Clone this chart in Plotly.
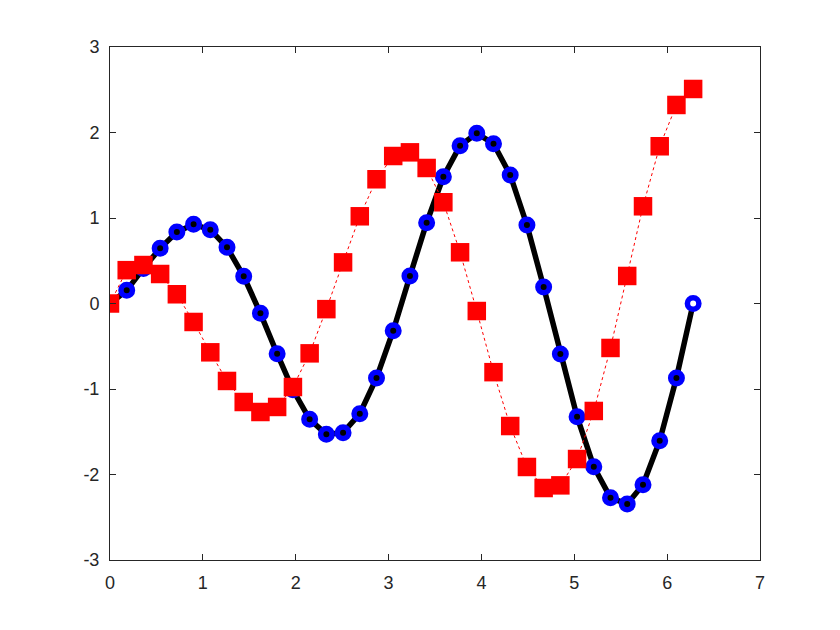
import plotly.graph_objects as go

x_vals = [0.00, 0.18, 0.36, 0.54, 0.72, 0.90, 1.08, 1.26, 1.44, 1.62, 1.80, 1.97,
          2.15, 2.33, 2.51, 2.69, 2.87, 3.05, 3.23, 3.41, 3.59, 3.77, 3.95, 4.13,
          4.31, 4.49, 4.67, 4.85, 5.03, 5.21, 5.39, 5.57, 5.74, 5.92, 6.10, 6.28]

black_y = [0.0, 0.154, 0.41, 0.646, 0.836, 0.926, 0.863, 0.657, 0.318, -0.115,
           -0.587, -1.01, -1.354, -1.53, -1.511, -1.289, -0.871, -0.318, 0.322,
           0.945, 1.483, 1.846, 1.99, 1.869, 1.503, 0.918, 0.193, -0.591, -1.324,
           -1.909, -2.271, -2.345, -2.119, -1.605, -0.871, 0.0]

red_y = [0.0, 0.39, 0.45, 0.345, 0.108, -0.216, -0.571, -0.906, -1.152, -1.269,
         -1.21, -0.977, -0.583, -0.066, 0.481, 1.02, 1.453, 1.725, 1.768, 1.585,
         1.184, 0.599, -0.088, -0.803, -1.433, -1.912, -2.158, -2.127, -1.819,
         -1.257, -0.52, 0.322, 1.137, 1.839, 2.322, 2.509]

x_ticks = [0, 1, 2, 3, 4, 5, 6, 7]
y_ticks = [-3, -2, -1, 0, 1, 2, 3]

fill_cols = ["black"] * (len(x_vals) - 1) + ["white"]

fig = go.Figure()
fig.add_trace(go.Scatter(
    x=x_vals, y=black_y, mode="lines+markers",
    line=dict(color="black", width=5.5),
    marker=dict(symbol="circle", size=11.5, color=fill_cols,
                line=dict(color="#0000ff", width=5.5)),
    showlegend=False,
))
fig.add_trace(go.Scatter(
    x=x_vals, y=red_y, mode="lines+markers",
    line=dict(color="red", width=1, dash="dot"),
    marker=dict(symbol="square", size=18.5, color="red", line=dict(width=0)),
    showlegend=False,
))

axis_common = dict(
    showline=True, linecolor="#262626", linewidth=1, mirror="ticks",
    ticks="inside", ticklen=6, tickcolor="#262626", tickwidth=1,
    showgrid=False, zeroline=False,
    tickfont=dict(family="Liberation Sans, Arial, sans-serif", size=18, color="#262626"),
)

fig.update_layout(
    width=840, height=630,
    margin=dict(l=101.6, r=88, t=39, b=78),
    paper_bgcolor="white", plot_bgcolor="white",
    xaxis=dict(range=[0, 7], tickvals=x_ticks,
               ticktext=[str(v) for v in x_ticks], ticklabelstandoff=6, **axis_common),
    yaxis=dict(range=[-3, 3], tickvals=y_ticks,
               ticktext=[str(v) for v in y_ticks], ticklabelstandoff=6, **axis_common),
)
fig.write_html("out.html")
